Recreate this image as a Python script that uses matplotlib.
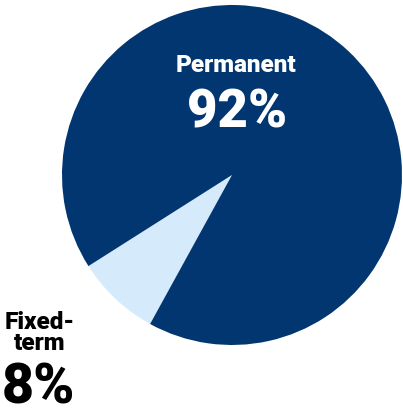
import matplotlib.pyplot as plt

labels = ["Fixed-\nterm", "Permanent"]
shares = [8, 92]
colors = ["#d5ebfb", "#023671"]

W, H = 403, 409
fig = plt.figure(figsize=(W / 100, H / 100), dpi=100)
ax = fig.add_axes([0.1538, 0.1565, 0.8437, 0.8313])

ax.pie(shares, colors=colors, startangle=212.4, counterclock=True,
       wedgeprops=dict(linewidth=0))
ax.set_xlim(-1, 1)
ax.set_ylim(-1, 1)
ax.set_aspect("equal")
ax.axis("off")

font = dict(family=["Roboto", "DejaVu Sans"], fontweight="black", ha="center")


def put(x, y, s, size, color, va="baseline", **kw):
    # x, y in pixels from the top-left corner
    fig.text(x / W, 1 - y / H, s, fontsize=size, color=color, va=va, **font, **kw)


# Permanent share, inside the big slice
put(236, 72, labels[1], 17.5, "white")
put(237, 127, f"{shares[1]}%", 38, "white")

# Fixed-term share, outside bottom-left
put(40, 333, labels[0], 17.5, "black", va="center", linespacing=0.9)
put(38, 404, f"{shares[0]}%", 40, "black")

fig.savefig("out.png", dpi=100)
